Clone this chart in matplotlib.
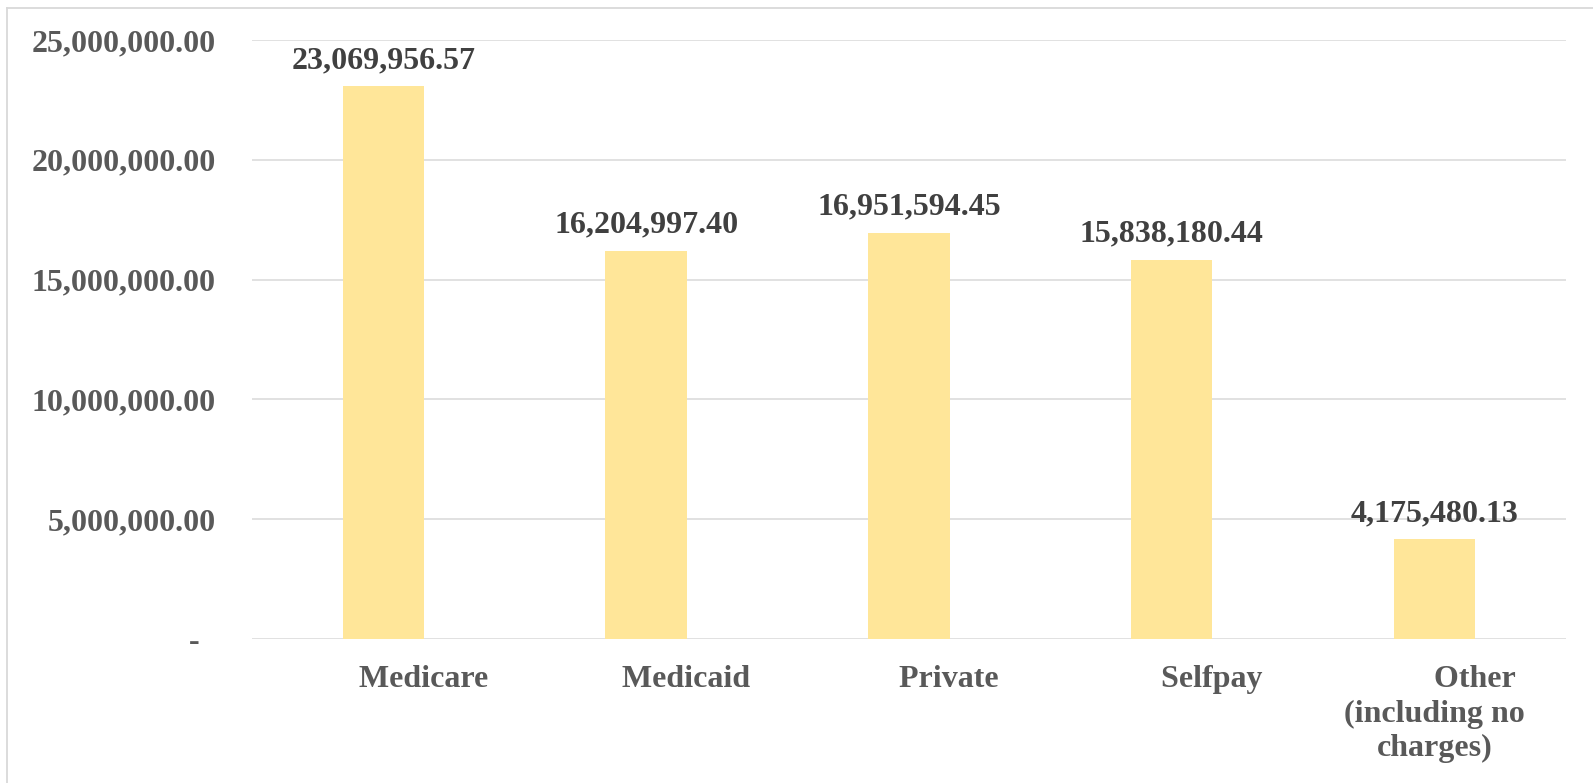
import matplotlib
matplotlib.use('Agg')

import matplotlib.pyplot as plt
from matplotlib.lines import Line2D
from matplotlib.ticker import FuncFormatter

categories = ['Medicare', 'Medicaid', 'Private', 'Selfpay', 'Other\n(including no\ncharges)']
charges = [23069956.57, 16204997.40, 16951594.45, 15838180.44, 4175480.13]
y_ticks = [0, 5000000, 10000000, 15000000, 20000000, 25000000]

plt.rcParams['font.family'] = ['Liberation Serif', 'DejaVu Serif']
plt.rcParams['font.weight'] = 'bold'

fig = plt.figure(figsize=(15.93, 7.83), dpi=100)
ax = fig.add_axes([0.1582, 0.1839, 0.983 - 0.1582, 0.9489 - 0.1839])

x = range(len(categories))
bars = ax.bar(x, charges, width=0.31, color='#FFE699', zorder=2)

ax.set_xlim(-0.5, len(categories) - 0.5)
ax.set_ylim(0, 25000000)
ax.set_yticks(y_ticks)


def money(v, pos):
    if v == 0:
        return '-  '
    return f'{v:,.2f}'


# the source labels carry leading blanks, so the first line sits right of the bar
def pad_first_line(c):
    lines = c.split('\n')
    lines[0] = ' ' * 10 + lines[0]
    return '\n'.join(lines)


ax.yaxis.set_major_formatter(FuncFormatter(money))
ax.set_xticks(list(x))
ax.set_xticklabels([pad_first_line(c) for c in categories], linespacing=1.24)

ax.tick_params(axis='y', length=0, pad=26, labelsize=23, labelcolor='#595959')
ax.tick_params(axis='x', length=0, pad=19, labelsize=23, labelcolor='#595959')
for lbl in ax.get_xticklabels() + ax.get_yticklabels():
    lbl.set_fontweight('bold')

ax.grid(axis='y', color='#D9D9D9', linewidth=1.1, zorder=0)
for s in ax.spines.values():
    s.set_visible(False)

for b, v in zip(bars, charges):
    ax.annotate(f'{v:,.2f}', (b.get_x() + b.get_width() / 2, v),
                xytext=(0, 13), textcoords='offset points',
                ha='center', va='baseline', fontsize=23,
                fontweight='bold', color='#404040')

# light frame along top and left edge
fig.add_artist(Line2D([7 / 1593, 7 / 1593], [0, 1 - 8 / 783],
                      transform=fig.transFigure, color='#D9D9D9', lw=1.3))
fig.add_artist(Line2D([7 / 1593, 1], [1 - 8 / 783, 1 - 8 / 783],
                      transform=fig.transFigure, color='#D9D9D9', lw=1.3))

plt.savefig('out.png', dpi=100)
plt.close()
